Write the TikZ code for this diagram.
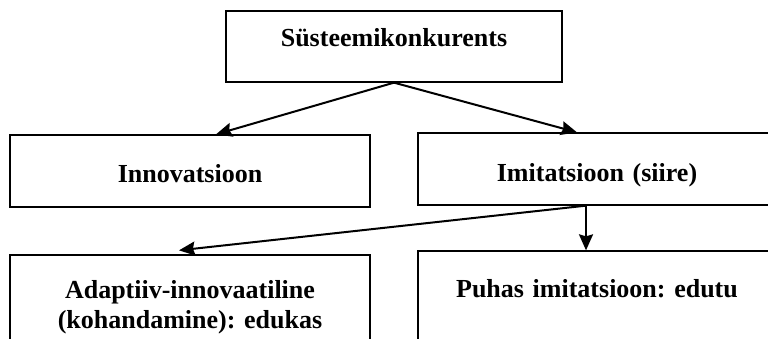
\documentclass[tikz,border=0pt]{standalone}
\usepackage{fontspec}
\setmainfont{Liberation Serif}
\usetikzlibrary{arrows.meta}

\begin{document}
\frenchspacing
\begin{tikzpicture}[x=1pt,y=1pt,>={Stealth[length=16pt,width=14pt,inset=2pt]},
  box/.style={draw,line width=1.3pt,inner sep=0pt,anchor=base,align=center,
    font=\fontsize{26}{30}\selectfont\bfseries},
  link/.style={->,line width=2pt}]
  \useasboundingbox (0,0) rectangle (768,338);
  \clip (0,0) rectangle (768,338);
  \node[box,text width=336pt,text height=36pt,text depth=35pt] (sys) at (394,291) {Süsteemikonkurents};
  \node[box,text width=360pt,text height=47pt,text depth=25pt] (innov) at (190,156) {Innovatsioon};
  \node[box,text width=358pt,text height=48pt,text depth=24pt] (imit) at (597,157) {Imitatsioon (siire)};
  \node[box,text width=360pt,text height=43pt,text depth=60pt] (adapt) at (190,40) {Adaptiiv-innovaatiline\\(kohandamine): edukas};
  \node[box,text width=358pt,text height=46pt,text depth=61pt] (puhas) at (597,41) {Puhas imitatsioon: edutu};
  \draw[link] (sys.south) -- ([xshift=26pt]innov.north);
  \draw[link] (sys.south) -- ([xshift=-20pt]imit.north);
  \draw[link] ([xshift=-11pt]imit.south) -- ([xshift=-11pt]puhas.north);
  \draw[link] ([xshift=-11pt]imit.south) -- ([shift={(-11pt,4pt)}]adapt.north);
\end{tikzpicture}
\end{document}
